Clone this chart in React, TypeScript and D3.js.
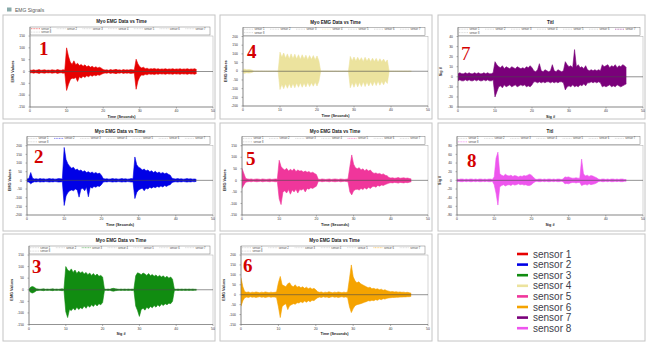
import React from 'react';
import * as d3 from 'd3';

const SENSORS = ['sensor 1', 'sensor 2', 'sensor 3', 'sensor 4', 'sensor 5', 'sensor 6', 'sensor 7', 'sensor 8'];
const COLORS = ['#e60000', '#0000e6', '#118c11', '#ece39e', '#f0369b', '#f5a300', '#7a007a', '#ee55ee'];
const DT = 0.5; // seconds per envelope sample

const S1_HI = [6,5,7,5,6,8,5,6,7,5,6,5,7,6,5,8,6,5,7,6, 100,65,40,30,45,28,35,25,30,22,28,20,24,18,22,16,20,15,18,14, 8,6,7,5,8,6,7,9,6,7,5,8,6,7,6,8,7,6, 52,32,20,15,18,12,14,10,12,11,13,10,12,9,11,10,12,9,11,10,12,9,11,10,12,9,11,10,12,9,11,10,12,8];
const S1_LO = [-6,-5,-7,-5,-6,-8,-5,-6,-7,-5,-6,-5,-7,-6,-5,-8,-6,-5,-7,-6, -80,-55,-35,-28,-30,-25,-42,-22,-28,-20,-25,-18,-22,-16,-20,-15,-18,-14,-16,-12, -8,-6,-7,-5,-8,-6,-7,-9,-6,-7,-5,-8,-6,-7,-6,-8,-7,-6, -75,-40,-22,-15,-16,-12,-14,-10,-12,-11,-13,-10,-12,-9,-11,-10,-12,-9,-11,-10,-12,-9,-11,-10,-12,-9,-11,-10,-12,-9,-11,-10,-12,-8];

const S2_HI = [8,10,45,12,8,9,7,10,8,9,7,8,10,8,9,7,8,10,9,8, 190,120,95,80,70,75,60,65,55,60,50,55,45,50,42,48,40,45,38,42, 30,10,8,9,7,8,10,8,9,7,8,10,8,9,7,8,10,9, 135,90,75,70,60,65,55,60,50,55,45,52,42,48,40,45,38,42,35,30, 12,9,8,10,8,9,7,8,10,8,9,7,8,6];
const S2_LO = [-8,-10,-20,-12,-8,-9,-7,-10,-8,-9,-7,-8,-10,-8,-9,-7,-8,-10,-9,-8, -145,-90,-70,-60,-55,-60,-50,-55,-97,-50,-45,-60,-40,-95,-38,-45,-35,-40,-32,-35, -25,-10,-8,-9,-7,-8,-10,-8,-9,-7,-8,-10,-8,-9,-7,-8,-10,-9, -105,-70,-55,-50,-45,-60,-45,-50,-40,-45,-38,-42,-35,-40,-32,-38,-30,-35,-28,-25, -12,-9,-8,-10,-8,-9,-7,-8,-10,-8,-9,-7,-8,-6];

const S3_HI = [3,12,14,10,4,3,2,3,4,2,3,2,3,4,2,3,2,3,4,2, 100,85,80,90,75,85,70,80,72,78,68,75,65,72,62,70,60,68,58,62,55, 3,2,3,2,5,6,4,3,2,3,2,3,2,3,2,3,2, 60,73,70,65,72,68,62,70,60,66,58,64,56,62,55,60,52,58,50,55,45, 3,2,3,2,3,2,3,2,3,2,3,2,2];
const S3_LO = [-3,-12,-14,-10,-4,-3,-2,-3,-4,-2,-3,-2,-3,-4,-2,-3,-2,-3,-4,-2, -95,-120,-85,-90,-80,-88,-75,-85,-78,-82,-70,-80,-68,-75,-65,-72,-62,-70,-60,-65,-55, -3,-2,-3,-2,-5,-6,-4,-3,-2,-3,-2,-3,-2,-3,-2,-3,-2, -70,-90,-115,-85,-80,-88,-75,-82,-72,-78,-68,-75,-65,-72,-62,-68,-60,-65,-58,-60,-50, -3,-2,-3,-2,-3,-2,-3,-2,-3,-2,-3,-2,-2];

const S4_HI = [10,12,8,10,9,6,0,0,0,0,0,0,0,0,0,0,0,0,0,0, 110,80,105,75,100,70,100,72,98,70,95,68,95,70,92,66,90,68,90,65,88,60, 0,0,0,0,0,0,0,0,0,0,0,0,0,0,0,0, 85,60,82,58,80,60,78,55,80,58,76,55,75,56,74,52,72,55,70,50,65, 0,0,0,0,0,0,0,0,0,0,0,0,0];
const S4_LO = [-10,-12,-8,-10,-9,-6,0,0,0,0,0,0,0,0,0,0,0,0,0,0, -105,-75,-100,-72,-98,-70,-96,-70,-95,-68,-92,-66,-92,-68,-90,-64,-88,-66,-86,-62,-85,-58, 0,0,0,0,0,0,0,0,0,0,0,0,0,0,0,0, -95,-65,-92,-62,-90,-64,-88,-60,-88,-62,-85,-60,-84,-58,-82,-56,-80,-58,-78,-54,-70, 0,0,0,0,0,0,0,0,0,0,0,0,0];

const S5_HI = [52,30,8,6,5,6,4,5,6,5,4,6,5,4,5,6,4,5,6,5, 87,60,50,45,52,40,48,42,50,38,45,40,42,36,40,35,38,32,35,30,25, 5,4,6,5,4,5,6,4,5,6,5,4,6,5,4,5,6, 60,110,70,55,50,55,45,50,42,48,40,45,35,30,32,28,30,25,28,22,20, 12,10,11,9,10,12,9,10,11,9,10,8,6];
const S5_LO = [-35,-20,-8,-6,-5,-6,-4,-5,-6,-5,-4,-6,-5,-4,-5,-6,-4,-5,-6,-5, -80,-105,-50,-45,-55,-40,-60,-42,-50,-38,-55,-40,-42,-36,-50,-35,-38,-32,-35,-30,-25, -5,-4,-6,-5,-4,-5,-6,-4,-5,-6,-5,-4,-6,-5,-4,-5,-6, -50,-63,-45,-40,-38,-42,-35,-40,-32,-38,-30,-35,-28,-25,-30,-22,-25,-20,-22,-18,-15, -12,-10,-11,-9,-10,-12,-9,-10,-11,-9,-10,-8,-6];

const S6_HI = [85,40,15,12,14,10,13,11,14,12,10,13,11,14,12,10,13,11,12,14, 60,92,50,45,40,55,60,45,40,50,38,42,35,40,32,38,30,35,28,32,25, 15,12,14,10,13,11,15,12,10,13,11,14,12,10,13,11,14, 80,150,90,70,60,65,55,50,45,40,35,38,30,32,28,30,25,28,22,25,20, 18,15,16,14,15,13,14,12,13,11,12,10,8];
const S6_LO = [-58,-30,-15,-12,-14,-10,-13,-11,-14,-12,-10,-13,-11,-14,-12,-10,-13,-11,-12,-14, -60,-115,-60,-50,-45,-75,-55,-50,-45,-48,-40,-42,-35,-40,-32,-38,-30,-35,-28,-30,-22, -15,-12,-14,-10,-13,-11,-15,-12,-10,-13,-11,-14,-12,-10,-13,-11,-14, -60,-90,-70,-55,-50,-48,-45,-42,-38,-35,-30,-32,-28,-30,-25,-28,-22,-25,-20,-22,-18, -16,-15,-14,-14,-13,-13,-12,-12,-11,-11,-10,-10,-8];

const S7_HI = [3,4,3,3,4,3,4,3,3,4,3,4,3,3,4,3,4,3,3,4, 15,12,10,9,11,8,10,9,8,10,9,8,10,9,8,9,8,10,9,11,9, 6,5,7,13,6,5,7,6,5,6,12,6,5,7,6,5,6, 15,12,10,11,9,27,10,12,9,10,8,11,7,6,7,6,7,6,7,6, 12,10,11,12,9,11,10,12,9,11,10,12,11,9];
const S7_LO = [-4,-3,-4,-4,-3,-4,-3,-4,-4,-3,-4,-3,-4,-4,-3,-4,-3,-4,-4,-3, -20,-15,-10,-9,-11,-8,-10,-9,-8,-10,-9,-8,-10,-9,-8,-9,-8,-10,-9,-10,-8, -5,-5,-6,-5,-6,-5,-6,-5,-5,-6,-5,-6,-5,-6,-5,-5,-6, -13,-10,-9,-10,-8,-10,-9,-10,-8,-9,-7,-9,-6,-6,-5,-6,-5,-6,-5,-6, -10,-9,-10,-9,-8,-10,-9,-10,-8,-9,-10,-9,-8,-7];

const S8_HI = [3,2,3,3,2,3,2,3,3,2,3,2,3,3,2,3,2,3,3,2, 8,51,65,15,12,10,14,11,10,12,9,11,10,8,10,9,11,10,12,14,12,8, 3,2,3,3,2,3,2,3,3,2,3,2,3,3,2,3, 8,7,8,6,5,5,6,5,5, 49,15,10,12,9,11,10,8,6, 3,2,3,3,2,3,2,3,3,2,3,2,3,3,2,2];
const S8_LO = [-3,-2,-3,-3,-2,-3,-2,-3,-3,-2,-3,-2,-3,-3,-2,-3,-2,-3,-3,-2, -10,-30,-57,-15,-12,-10,-13,-11,-10,-12,-9,-11,-10,-8,-10,-9,-11,-10,-12,-12,-10,-6, -3,-2,-3,-3,-2,-3,-2,-3,-3,-2,-3,-2,-3,-3,-2,-3, -8,-7,-8,-6,-5,-5,-6,-5,-5, -12,-10,-9,-11,-8,-10,-9,-8,-6, -3,-2,-3,-3,-2,-3,-2,-3,-3,-2,-3,-2,-3,-3,-2,-2];

const HI = [S1_HI, S2_HI, S3_HI, S4_HI, S5_HI, S6_HI, S7_HI, S8_HI];
const LO = [S1_LO, S2_LO, S3_LO, S4_LO, S5_LO, S6_LO, S7_LO, S8_LO];

const X_TICKS = [0, 10, 20, 30, 40, 50];
const Y_TICKS_150 = [-150, -100, -50, 0, 50, 100, 150];
const Y_TICKS_200 = [-200, -150, -100, -50, 0, 50, 100, 150, 200];
const Y_TICKS_6 = [-150, -100, -50, 0, 50, 100, 150, 200];
const Y_TICKS_7 = [-30, -20, -10, 0, 10, 20, 30, 40];
const Y_TICKS_80 = [-80, -60, -40, -20, 0, 20, 40, 60, 80];

const TITLE_A = 'Myo EMG Data vs Time';
const TITLE_B = 'Titl';
const XLABEL_A = 'Time (Seconds)';
const XLABEL_B = 'Sig #';
const YLABEL_A = 'EMG Values';
const YLABEL_B = 'Sig #';

type PanelDef = {
  s: number; x0: number; x1: number; top: number; bot: number;
  ticks: number[]; title: string; xl: string; yl: string;
  nx: number; ny: number; nBold: boolean;
};

const PANELS: PanelDef[] = [
  { s: 0, x0: 30, x1: 213, top: 36, bot: 107, ticks: Y_TICKS_150, title: TITLE_A, xl: XLABEL_A, yl: YLABEL_A, nx: 39, ny: 55, nBold: true },
  { s: 1, x0: 27, x1: 213, top: 145.7, bot: 215, ticks: Y_TICKS_200, title: TITLE_A, xl: XLABEL_A, yl: YLABEL_A, nx: 34, ny: 163, nBold: true },
  { s: 2, x0: 29, x1: 213, top: 255, bot: 324.5, ticks: Y_TICKS_150, title: TITLE_A, xl: XLABEL_B, yl: YLABEL_A, nx: 32, ny: 273, nBold: true },
  { s: 3, x0: 243, x1: 428, top: 36.5, bot: 106, ticks: Y_TICKS_200, title: TITLE_A, xl: XLABEL_A, yl: YLABEL_A, nx: 247, ny: 58, nBold: true },
  { s: 4, x0: 242, x1: 428, top: 145.7, bot: 215, ticks: Y_TICKS_150, title: TITLE_A, xl: XLABEL_A, yl: YLABEL_A, nx: 246, ny: 165, nBold: true },
  { s: 5, x0: 241, x1: 428, top: 255, bot: 324.5, ticks: Y_TICKS_6, title: TITLE_A, xl: XLABEL_A, yl: YLABEL_A, nx: 243, ny: 272, nBold: true },
  { s: 6, x0: 458, x1: 643, top: 36.5, bot: 107, ticks: Y_TICKS_7, title: TITLE_B, xl: XLABEL_B, yl: YLABEL_B, nx: 461, ny: 60, nBold: false },
  { s: 7, x0: 457, x1: 643, top: 145.7, bot: 215, ticks: Y_TICKS_80, title: TITLE_B, xl: XLABEL_B, yl: YLABEL_B, nx: 467, ny: 167, nBold: true },
];

const FRAMES = [
  [3, 15, 215, 119], [220, 15, 432, 119], [438, 15, 645, 119],
  [3, 123, 215, 231], [220, 123, 432, 231], [438, 123, 645, 231],
  [3, 234, 215, 341], [220, 234, 432, 341], [438, 234, 645, 341],
];

const SANS = 'Liberation Sans, Arial, sans-serif';

function Plot({ p }: { p: PanelDef }) {
  const hi = HI[p.s];
  const lo = LO[p.s];
  const dom = [p.ticks[0], p.ticks[p.ticks.length - 1]];
  const x = d3.scaleLinear().domain([0, 50]).range([p.x0, p.x1]);
  const y = d3.scaleLinear().domain(dom).range([p.bot, p.top]);
  const area = d3.area<number>()
    .x((_, i) => x(i * DT))
    .y0((_, i) => y(lo[i]))
    .y1((d) => y(d));
  const upper = d3.line<number>().x((_, i) => x(i * DT)).y((d) => y(d));
  const lower = d3.line<number>().x((_, i) => x(i * DT)).y((_, i) => y(lo[i]));
  const clipId = `clip${p.s}`;
  const cx = (p.x0 + p.x1) / 2;
  const cy = (p.top + p.bot) / 2;
  const lgTop = p.top - 9;
  const lgW = p.x1 - 3 - p.x0;
  const colW = lgW / 7;
  return (
    <g>
      <defs>
        <clipPath id={clipId}>
          <rect x={p.x0} y={p.top} width={p.x1 - p.x0} height={p.bot - p.top} />
        </clipPath>
      </defs>
      <text x={cx} y={p.top - 13} fontSize={4.6} fontWeight="bold" textAnchor="middle" fontFamily={SANS} fill="#222">{p.title}</text>
      <rect x={p.x0} y={lgTop} width={lgW} height={8} fill="#fff" stroke="#777" strokeWidth={0.5} />
      {SENSORS.map((name, k) => {
        const col = k < 7 ? k : 0;
        const row = k < 7 ? 0 : 1;
        const lx = p.x0 + 1 + col * colW;
        const ly = lgTop + 2.6 + row * 3.4;
        return (
          <g key={k}>
            <line x1={lx} x2={lx + colW * 0.35} y1={ly - 0.9} y2={ly - 0.9} stroke={k === p.s ? COLORS[k] : '#bbb'} strokeWidth={0.5} strokeDasharray="1,0.6" />
            <text x={lx + colW * 0.4} y={ly} fontSize={2.6} fontFamily={SANS} fill="#444">{name}</text>
          </g>
        );
      })}
      <rect x={p.x0} y={p.top} width={p.x1 - p.x0} height={p.bot - p.top} fill="#fff" stroke="#aaa" strokeWidth={0.5} />
      <g clipPath={`url(#${clipId})`}>
        <path d={area(hi) || ''} fill={COLORS[p.s]} stroke="none" />
        <path d={upper(hi) || ''} fill="none" stroke={COLORS[p.s]} strokeWidth={0.6} />
        <path d={lower(hi) || ''} fill="none" stroke={COLORS[p.s]} strokeWidth={0.6} />
        <line x1={p.x0} x2={p.x1} y1={y(0)} y2={y(0)} stroke="#4a4a4a" strokeWidth={0.6} />
      </g>
      <line x1={p.x0} x2={p.x0} y1={lgTop} y2={p.bot} stroke="#666" strokeWidth={0.6} />
      <line x1={p.x0} x2={p.x1} y1={p.bot} y2={p.bot} stroke="#666" strokeWidth={0.6} />
      {p.ticks.map((t) => (
        <g key={t}>
          <line x1={p.x0 - 1.5} x2={p.x0} y1={y(t)} y2={y(t)} stroke="#666" strokeWidth={0.5} />
          <text x={p.x0 - 5} y={y(t) + 1.2} fontSize={3.4} textAnchor="end" fontFamily={SANS} fill="#333">{t}</text>
        </g>
      ))}
      {X_TICKS.map((t) => (
        <g key={t}>
          <line x1={x(t)} x2={x(t)} y1={p.bot} y2={p.bot + 1.5} stroke="#666" strokeWidth={0.5} />
          <text x={x(t)} y={p.bot + 5.3} fontSize={3.4} textAnchor="middle" fontFamily={SANS} fill="#333">{t}</text>
        </g>
      ))}
      <text x={cx} y={p.bot + 10.5} fontSize={3.8} fontWeight="bold" textAnchor="middle" fontFamily={SANS} fill="#222">{p.xl}</text>
      <text transform={`translate(${p.x0 - 16},${cy}) rotate(-90)`} fontSize={3.8} fontWeight="bold" textAnchor="middle" fontFamily={SANS} fill="#222">{p.yl}</text>
      <text x={p.nx} y={p.ny} fontSize={19} fontWeight={p.nBold ? 'bold' : 'normal'} fontFamily="Liberation Serif, Times New Roman, serif" fill="#d40000">{p.s + 1}</text>
    </g>
  );
}

export default function App() {
  return (
    <svg width={646} height={342} style={{ position: 'fixed', left: 0, top: 0, background: '#fff' }}>
      <rect x={0} y={0} width={646} height={342} fill="#fff" />
      <rect x={7} y={7.5} width={4.5} height={4} fill="#8aa" />
      <text x={15} y={11.5} fontSize={5} fontFamily={SANS} fill="#555">EMG Signals</text>
      {FRAMES.map(([a, b, c, d], i) => (
        <rect key={i} x={a} y={b} width={c - a} height={d - b} fill="none" stroke="#c4c4c4" strokeWidth={1} />
      ))}
      {PANELS.map((p) => <Plot key={p.s} p={p} />)}
      {SENSORS.map((name, k) => {
        const yy = 254 + k * 10.6;
        return (
          <g key={name}>
            <line x1={517} x2={528} y1={yy} y2={yy} stroke={COLORS[k]} strokeWidth={2.6} />
            <text x={533} y={yy + 3.5} fontSize={10} fontFamily={SANS} fill="#3d3d4a">{name}</text>
          </g>
        );
      })}
    </svg>
  );
}
